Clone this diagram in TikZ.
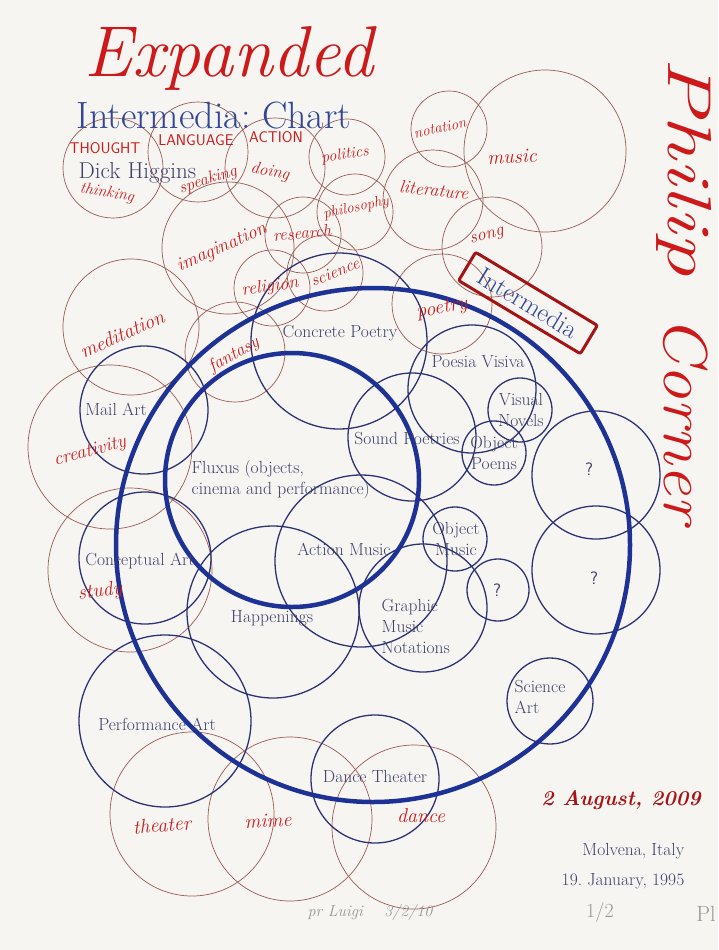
\documentclass[tikz,border=0pt]{standalone}
\usepackage{fontspec}
\definecolor{paper}{RGB}{246,245,242}
\definecolor{ringblue}{RGB}{30,50,150}
\definecolor{navy}{RGB}{45,50,115}
\definecolor{printink}{RGB}{62,64,105}
\definecolor{rust}{RGB}{155,90,85}
\definecolor{ink}{RGB}{205,25,25}
\definecolor{darkink}{RGB}{165,20,20}
\definecolor{titleblue}{RGB}{50,70,150}
\definecolor{pencil}{RGB}{150,150,150}
\frenchspacing

\begin{document}
\begin{tikzpicture}[
  x=1pt,y=-1pt,
  every node/.style={inner sep=1.5pt},
  redring/.style={circle,draw=rust,line width=0.7pt,minimum size=2*#1pt,inner sep=0pt},
  field/.style={circle,draw=navy,line width=1.3pt,minimum size=2*#1pt,inner sep=0pt},
  bigring/.style={circle,draw=ringblue,line width=4.5pt,minimum size=2*#1pt,inner sep=0pt},
  printed/.style={text=printink,font=\fontsize{17.5}{21}\selectfont},
  hand/.style={text=ink,font=\fontsize{#1}{#1}\selectfont\itshape},
  hand/.default=18,
  caps/.style={text=ink,font=\fontsize{15.5}{15.5}\selectfont\sffamily},
  pencilnote/.style={text=pencil,font=\fontsize{16}{16}\selectfont\itshape}
]
\fill[paper] (0,0) rectangle (718,950);
\useasboundingbox (0,0) rectangle (718,950);
% ================= red (hand drawn) rings =================
\node[redring=50] (rThought) at (113,168) {};
\node[redring=50] (rLanguage) at (198,152) {};
\node[redring=50] (rAction) at (275,168) {};
\node[redring=38] (rPolitics) at (347,157) {};
\node[redring=38] (rNotation) at (449,129) {};
\node[redring=81] (rMusic) at (545,151) {};
\node[redring=50] (rLiterature) at (433,200) {};
\node[redring=38] (rPhilosophy) at (355,212) {};
\node[redring=50] (rSong) at (492,247) {};
\node[redring=66] (rImagination) at (228,248) {};
\node[redring=38] (rResearch) at (303,235) {};
\node[redring=38] (rScience) at (325,273) {};
\node[redring=38] (rReligion) at (272,288) {};
\node[redring=50] (rPoetry) at (442,304) {};
\node[redring=68] (rMeditation) at (131,327) {};
\node[redring=50] (rFantasy) at (235,352) {};
\node[redring=82] (rCreativity) at (110,447) {};
\node[redring=82] (rStudy) at (130,570) {};
\node[redring=82] (rTheater) at (192,814) {};
\node[redring=82] (rMime) at (290,819) {};
\node[redring=82] (rDance) at (414,827) {};
% ================= printed (blue) fields =================
\node[field=88] (bConcrete) at (339,341) {};
\node[field=64] (bMail) at (144,410) {};
\node[field=64] (bPoesia) at (472,389) {};
\node[field=32] (bVisual) at (520,410) {};
\node[field=32] (bObjPoems) at (494,453) {};
\node[field=64] (bSound) at (412,437) {};
\node[field=64] (bQa) at (596,475) {};
\node[field=64] (bQb) at (596,570) {};
\node[field=31] (bQc) at (498,590) {};
\node[field=32] (bObjMusic) at (455,539) {};
\node[field=64] (bGraphic) at (423,608) {};
\node[field=86] (bAction) at (361,561) {};
\node[field=86] (bHapp) at (273,612) {};
\node[field=66] (bConcept) at (145,558) {};
\node[field=86] (bPerf) at (165,721) {};
\node[field=43] (bScience) at (550,701) {};
\node[field=64] (bDance) at (375,779) {};
\node[bigring=257] (intermediaRing) at (373,545) {};
\node[bigring=127] (fluxusRing) at (292,480) {};
% ================= printed labels =================
\node[anchor=base west,text=titleblue,font=\fontsize{38}{40}\selectfont] (title) at (75,128) {Intermedia: Chart};
\node[anchor=base west,text=printink,font=\fontsize{23}{25}\selectfont] (author) at (77,178) {Dick Higgins};
\node[printed] (tConcrete) at (340,333) {Concrete Poetry};
\node[printed] (tMail) at (116,409) {Mail Art};
\node[printed] (tPoesia) at (478,362) {Poesia Visiva};
\node[printed,align=center] (tVisual) at (521,410) {Visual\\Novels};
\node[printed] (tSound) at (407,439) {Sound Poetries};
\node[printed,align=center] (tObjPoems) at (494,453) {Object\\Poems};
\node[printed,align=left,anchor=west] (tFluxus) at (190,480) {Fluxus (objects,\\cinema and performance)};
\node[printed,font=\fontsize{18}{18}\selectfont\sffamily] (tQa) at (589,469) {?};
\node[printed,align=center] (tObjMusic) at (456,539) {Object\\Music};
\node[printed] (tAction) at (344,549) {Action Music};
\node[printed] (tConcept) at (140,561) {Conceptual Art};
\node[printed,font=\fontsize{18}{18}\selectfont\sffamily] (tQb) at (594,578) {?};
\node[printed,font=\fontsize{18}{18}\selectfont\sffamily] (tQc) at (497,590) {?};
\node[printed] (tHapp) at (272,618) {Happenings};
\node[printed,align=left,anchor=west] (tGraphic) at (380,626) {Graphic\\Music\\Notations};
\node[printed,align=left,anchor=west] (tScience) at (513,697) {Science\\Art};
\node[printed] (tPerf) at (157,724) {Performance Art};
\node[printed] (tDance) at (375,776) {Dance Theater};
\node[printed,anchor=east] (tPlace) at (686,851) {Molvena, Italy};
\node[printed,anchor=east] (tDate) at (686,881) {19. January, 1995};
% ================= hand written notes =================
\node[hand=72] (expanded) at (229,58) {Expanded};
\node[caps] (tThought) at (105,148) {THOUGHT};
\node[caps] (tLanguage) at (196,140) {LANGUAGE};
\node[caps] (tActionCaps) at (276,137) {ACTION};
\node[hand=16,rotate=-10] (tThinking) at (107,193) {thinking};
\node[hand=17,rotate=18] (tSpeaking) at (208,180) {speaking};
\node[hand=17,rotate=-10] (tDoing) at (270,172) {doing};
\node[hand=16,rotate=8] (tPolitics) at (345,155) {politics};
\node[hand=15,rotate=12] (tNotation) at (440,128) {notation};
\node[hand=20,rotate=3] (tMusic) at (512,157) {music};
\node[hand=18,rotate=-6] (tLiterature) at (434,190) {literature};
\node[hand=15,rotate=12] (tPhilosophy) at (356,208) {philosophy};
\node[hand=18,rotate=14] (tSong) at (487,237) {song};
\node[hand=19,rotate=24] (tImagination) at (222,248) {imagination};
\node[hand=17,rotate=5] (tResearch) at (302,233) {research};
\node[hand=17,rotate=22] (tScience) at (335,272) {science};
\node[hand=18,rotate=8] (tReligion) at (270,287) {religion};
\node[hand=20,rotate=10] (tPoetry) at (442,309) {poetry};
\node[hand=20,rotate=24] (tMeditation) at (122,334) {meditation};
\node[hand=18,rotate=30] (tFantasy) at (234,355) {fantasy};
\node[hand=19,rotate=15] (tCreativity) at (90,452) {creativity};
\node[hand=20,rotate=8] (tStudy) at (100,592) {study};
\node[hand=20,rotate=5] (tTheater) at (162,825) {theater};
\node[hand=20,rotate=3] (tMime) at (268,821) {mime};
\node[hand=20] (tDanceHand) at (421,816) {dance};
\node[text=darkink,font=\fontsize{21}{21}\selectfont\bfseries\itshape] (tAugust) at (621,800) {2 August, 2009};
\node[draw=darkink,line width=3pt,rounded corners=2pt,rotate=-31,text=titleblue,
  font=\fontsize{26}{28}\selectfont,minimum width=142pt,minimum height=33pt] (boxIM) at (528,303) {Intermedia};
\node[hand=62,rotate=-90,xscale=1.4] (tPhilip) at (684,167) {Philip};
\node[hand=62,rotate=-90,xscale=1.1] (tCorner) at (686,420) {Corner};
% ================= pencil =================
\node[pencilnote] (tLuigi) at (370,912) {pr Luigi \quad 3/2/10};
\node[pencilnote,font=\fontsize{20}{20}\selectfont] (tEdition) at (600,912) {1/2};
\node[pencilnote,font=\fontsize{22}{22}\selectfont] (tInitials) at (706,914) {Pl};
\end{tikzpicture}
\end{document}
